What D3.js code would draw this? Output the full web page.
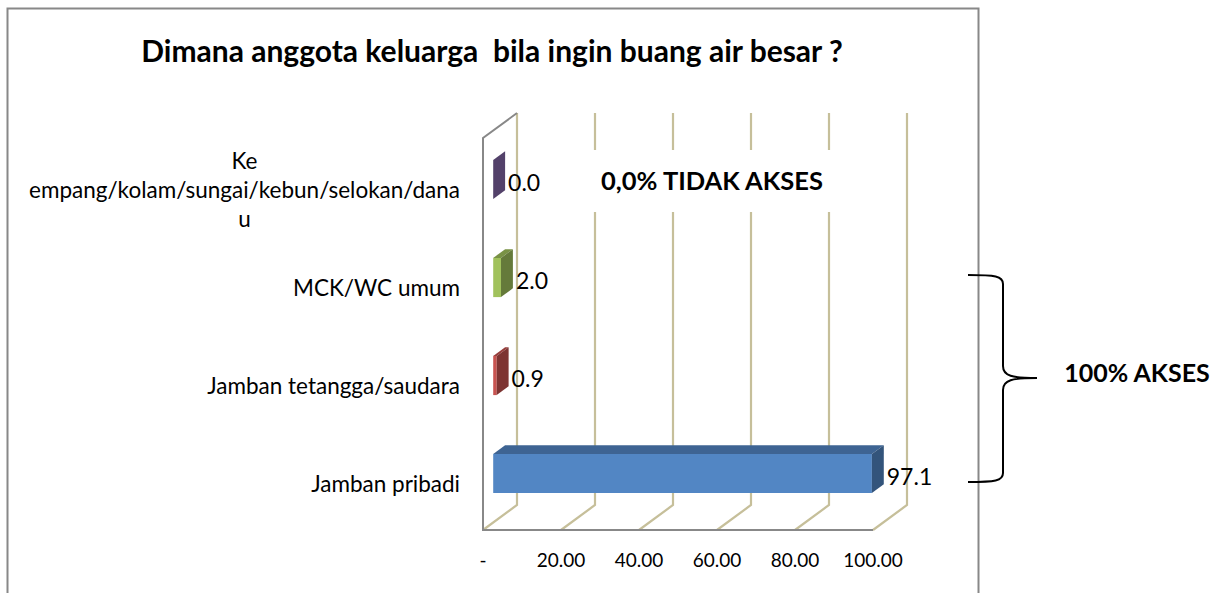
<!DOCTYPE html>
<html>
<head>
<meta charset="utf-8">
<script src="https://cdn.jsdelivr.net/npm/d3@7"></script>
<style>
  body { margin: 0; background: #fff; }
  text { font-family: Lato, "Noto Sans", sans-serif; fill: #000; }
</style>
</head>
<body>
<div id="chart"></div>
<script>
// data, bottom category first
var categories = ["Jamban pribadi", "Jamban tetangga/saudara", "MCK/WC umum",
                  "Ke empang/kolam/sungai/kebun/selokan/danau"];
var labelLines = [["Jamban pribadi"], ["Jamban tetangga/saudara"], ["MCK/WC umum"],
                  ["Ke", "empang/kolam/sungai/kebun/selokan/dana", "u"]];
var values = [97.1, 0.9, 2.0, 0.0];
var valueLabels = ["97.1", "0.9", "2.0", "0.0"];
var barColors = ["#4f81bd", "#c0504d", "#9bbb59", "#8064a2"];
var xTicks = [0, 20, 40, 60, 80, 100];
var xTickLabels = ["-", "20.00", "40.00", "60.00", "80.00", "100.00"];

var title = "Dimana anggota keluarga  bila ingin buang air besar ?";
var noteTop = "0,0% TIDAK AKSES";
var noteRight = "100% AKSES";

var W = 1220, H = 593;
var DX = 34, DY = -25;          // depth offset of the 3d box
var z0 = 0.3, z1 = 0.65;        // bar depth range
var gridColor = "#c6bf9a", edgeColor = "#888888";

var x = d3.scaleLinear().domain([0, 100]).range([483, 873]);
var y = d3.scaleBand().domain(categories).range([530, 138])
        .paddingInner(0.6).paddingOuter(0.3);

var svg = d3.select("#chart").append("svg")
        .attr("width", W)
        .attr("height", H);

// chart border
svg.append("rect")
        .attr("x", 7.5).attr("y", 8.5)
        .attr("width", 971).attr("height", 620)
        .attr("fill", "none")
        .attr("stroke", edgeColor)
        .attr("stroke-width", 2);

svg.append("text")
        .attr("x", 492).attr("y", 62)
        .attr("text-anchor", "middle")
        .style("white-space", "pre")
        .style("font-weight", "bold")
        .style("font-size", "30px")
        .text(title);

var yTop = y.range()[1], yBot = y.range()[0];

// floor diagonals + back wall gridlines
var grid = svg.append("g").attr("class", "grid");
grid.selectAll("path.g")
        .data(xTicks)
        .enter().append("path")
        .attr("class", "g")
        .attr("fill", "none")
        .attr("stroke", gridColor)
        .attr("stroke-width", 2.2)
        .attr("d", function(d) {
            return "M" + x(d) + "," + yBot + "L" + (x(d) + DX) + "," + (yBot + DY) +
                   "L" + (x(d) + DX) + "," + (yTop + DY);
        });

// wall / floor edges
svg.append("path")
        .attr("fill", "none")
        .attr("stroke", edgeColor)
        .attr("stroke-width", 2)
        .attr("d", "M" + (x(0) + DX) + "," + (yTop + DY) + "L" + x(0) + "," + yTop +
                   "L" + x(0) + "," + yBot + "L" + x(100) + "," + yBot);

// note box over the gridlines
svg.append("rect")
        .attr("x", 590).attr("y", 150)
        .attr("width", 245).attr("height", 62)
        .attr("fill", "#fff");
svg.append("text")
        .attr("x", 712).attr("y", 180)
        .attr("text-anchor", "middle")
        .attr("dominant-baseline", "central")
        .style("font-weight", "bold")
        .style("font-size", "25.5px")
        .text(noteTop);

// 3d bars
var bars = svg.append("g").attr("class", "bars")
        .selectAll("g")
        .data(values)
        .enter().append("g");

function pts(a) { return a.map(function(p) { return p.join(","); }).join(" "); }

bars.each(function(v, i) {
    var g = d3.select(this),
        c = d3.rgb(barColors[i]),
        t = y(categories[i]), b = t + y.bandwidth(),
        xa = x(0) + DX * z0, xb = x(v) + DX * z0,
        t0 = t + DY * z0, b0 = b + DY * z0,
        t1 = t + DY * z1, b1 = b + DY * z1,
        ddx = DX * (z1 - z0);

    g.append("polygon")
            .attr("points", pts([[xa, t0], [xb, t0], [xb, b0], [xa, b0]]))
            .attr("fill", c.brighter(0.1));
    g.append("polygon")
            .attr("points", pts([[xa, t0], [xb, t0], [xb + ddx, t1], [xa + ddx, t1]]))
            .attr("fill", c.darker(0.7));
    g.append("polygon")
            .attr("points", pts([[xb, t0], [xb + ddx, t1], [xb + ddx, b1], [xb, b0]]))
            .attr("fill", c.darker(1.2));
});

// value labels
svg.append("g").selectAll("text")
        .data(values)
        .enter().append("text")
        .attr("x", function(d) { return x(d) + DX * z1 + 3; })
        .attr("y", function(d, i) { return y(categories[i]) + y.bandwidth() / 2 - 5; })
        .attr("dominant-baseline", "central")
        .style("font-size", "23px")
        .text(function(d, i) { return valueLabels[i]; });

// category labels (wrapped lines are centred on the longest one)
var labelRight = 460;
var cat = svg.append("g").selectAll("text")
        .data(labelLines)
        .enter().append("text")
        .attr("text-anchor", "middle")
        .style("font-size", "22.5px");
cat.each(function(lines, i) {
    var el = d3.select(this),
        cy = y(categories[i]) + y.bandwidth() / 2 + 2,
        lh = 29;
    var spans = el.selectAll("tspan")
            .data(lines)
            .enter().append("tspan")
            .attr("y", function(d, j) { return cy + (j - (lines.length - 1) / 2) * lh; })
            .attr("dominant-baseline", "central")
            .text(function(d) { return d; });
    var maxW = d3.max(spans.nodes(), function(n) { return n.getComputedTextLength(); });
    spans.attr("x", labelRight - maxW / 2);
});

// x tick labels
svg.append("g").selectAll("text")
        .data(xTicks)
        .enter().append("text")
        .attr("x", function(d) { return x(d); })
        .attr("y", 559)
        .attr("text-anchor", "middle")
        .attr("dominant-baseline", "central")
        .style("font-size", "19px")
        .text(function(d, i) { return xTickLabels[i]; });

// bracket + right note
svg.append("path")
        .attr("fill", "none")
        .attr("stroke", "#000")
        .attr("stroke-width", 2)
        .attr("d", "M968,275 C995,275 1003,276 1003,284 L1003,366 C1003,376 1012,378 1037,378" +
                   " C1012,378 1003,380 1003,390 L1003,473 C1003,481 995,482 968,482");
svg.append("text")
        .attr("x", 1137).attr("y", 372)
        .attr("text-anchor", "middle")
        .attr("dominant-baseline", "central")
        .style("font-weight", "bold")
        .style("font-size", "25px")
        .text(noteRight);
</script>
</body>
</html>
